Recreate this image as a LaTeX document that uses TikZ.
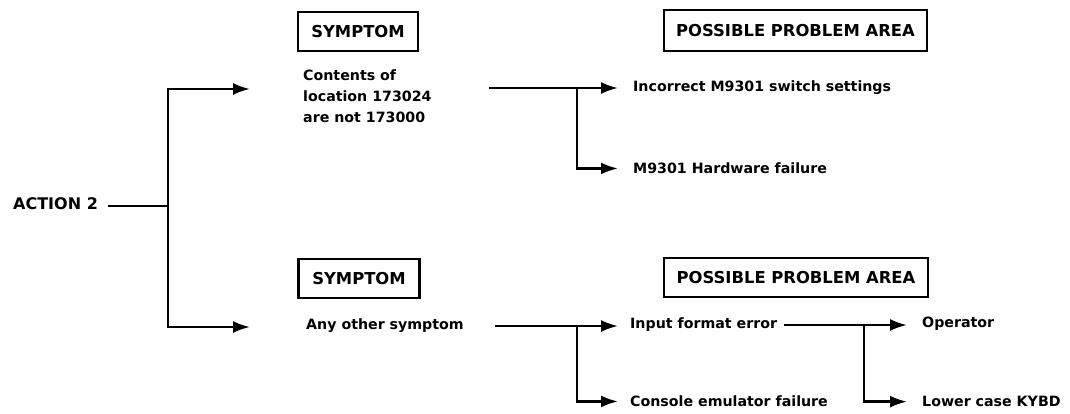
\documentclass[tikz,border=0pt]{standalone}
\usepackage{fontspec}
\setmainfont{DejaVu Sans}
\usetikzlibrary{arrows.meta}
\begin{document}
\begin{tikzpicture}[x=1pt,y=-1pt,
  line/.style={line width=2.4pt},
  arr/.style={line width=2.4pt,-{Latex[length=17pt,width=12pt]}},
  hdr/.style={draw,line width=2.4pt,inner sep=0pt,font=\bfseries\fontsize{16.4}{20}\selectfont},
  txt/.style={inner sep=0pt,anchor=mid west,font=\bfseries\fontsize{14.2}{21}\selectfont},
  captxt/.style={inner sep=0pt,anchor=mid west,font=\bfseries\fontsize{16}{20}\selectfont}]
\useasboundingbox (0,0) rectangle (1070,413);
% headers
\node[hdr,minimum width=120pt,minimum height=39pt] (sym1) at (358,31.5) {SYMPTOM};
\node[hdr,minimum width=263pt,minimum height=41pt] (ppa1) at (795.5,30.5) {POSSIBLE PROBLEM AREA};
\node[hdr,minimum width=121pt,minimum height=39pt] (sym2) at (359,278.5) {SYMPTOM};
\node[hdr,minimum width=264pt,minimum height=39pt] (ppa2) at (796,277.5) {POSSIBLE PROBLEM AREA};
% texts
\node[captxt] (act) at (13,207) {ACTION 2};
\node[txt,align=left,anchor=west] (c1) at (303,96.5) {Contents of\\location 173024\\are not 173000};
\node[txt] (c2) at (306,326.5) {Any other symptom};
\node[txt] (p1) at (633,88.5) {Incorrect M9301 switch settings};
\node[txt] (p2) at (633,171) {M9301 Hardware failure};
\node[txt] (p3) at (630,326) {Input format error};
\node[txt] (p4) at (630,404) {Console emulator failure};
\node[txt] (p5) at (922,325) {Operator};
\node[txt] (p6) at (922,404) {Lower case KYBD};
% junctions and free ends
\coordinate (j1) at (168,206);
\coordinate (t1) at (250,89);
\coordinate (t2) at (250,327);
\coordinate (s1) at (489,88);
\coordinate (b1) at (577,88);
\coordinate (b2) at (577,326);
\coordinate (b3) at (864,325);
% connectors
\draw[line,shorten <=10pt] (act.east |- j1) -- (j1);
\draw[arr] (j1) |- (t1);
\draw[arr] (j1) |- (t2);
\draw[line] (s1) -- (b1);
\draw[arr,shorten >=15pt] (b1) -- (b1 -| p1.west);
\draw[arr,shorten >=15pt] (b1) |- (p2.west);
\draw[line,shorten <=31pt] (c2.east |- b2) -- (b2);
\draw[arr,shorten >=12pt] (b2) -- (b2 -| p3.west);
\draw[arr,shorten >=12pt] (b2) |- (p4.west);
\draw[line,shorten <=7pt] (p3.east |- b3) -- (b3);
\draw[arr,shorten >=15pt] (b3) -- (b3 -| p5.west);
\draw[arr,shorten >=15pt] (b3) |- (p6.west);
\end{tikzpicture}
\end{document}
